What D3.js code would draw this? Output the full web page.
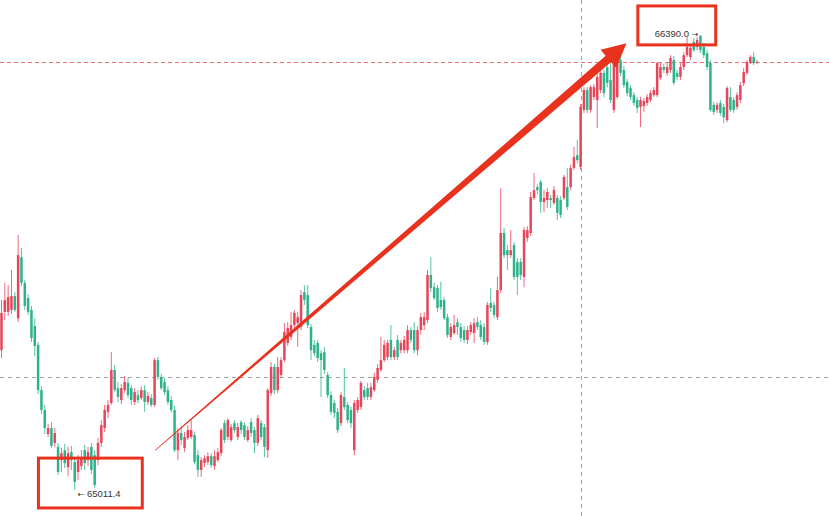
<!DOCTYPE html>
<html>
<head>
<meta charset="utf-8">
<script src="https://cdn.jsdelivr.net/npm/d3@7"></script>
<style>
  html, body { margin: 0; padding: 0; background: #fff; }
  svg { display: block; }
</style>
</head>
<body>
<script>
// OHLC per candle
const open = [
  65435, 65551, 65551, 65557, 65599, 65532, 65717, 65639, 65593, 65557,
  65508, 65451, 65314, 65254, 65181, 65199, 65154, 65142, 65102, 65132,
  65081, 65126, 65096, 65066, 65084, 65132, 65102, 65142, 65117, 65102,
  65154, 65199, 65248, 65275, 65375, 65320, 65284, 65314, 65336, 65320,
  65278, 65299, 65290, 65314, 65278, 65290, 65269, 65405, 65354, 65339,
  65314, 65284, 65254, 65132, 65184, 65139, 65169, 65172, 65178, 65117,
  65072, 65093, 65096, 65114, 65084, 65102, 65123, 65214, 65172, 65163,
  65214, 65172, 65217, 65208, 65163, 65217, 65193, 65154, 65214, 65202,
  65132, 65305, 65384, 65314, 65360, 65405, 65457, 65475, 65511, 65517,
  65505, 65611, 65602, 65505, 65451, 65457, 65426, 65429, 65360, 65299,
  65275, 65248, 65214, 65293, 65269, 65254, 65132, 65254, 65263, 65314,
  65320, 65293, 65314, 65345, 65375, 65405, 65414, 65466, 65414, 65466,
  65435, 65435, 65435, 65496, 65496, 65435, 65496, 65511, 65526, 65663,
  65626, 65623, 65587, 65587, 65535, 65475, 65487, 65520, 65505, 65496,
  65466, 65490, 65487, 65520, 65511, 65505, 65460, 65578, 65572, 65535,
  65617, 65790, 65738, 65723, 65754, 65702, 65702, 65657, 65775, 65790,
  65896, 65929, 65945, 65884, 65890, 65896, 65881, 65896, 65890, 65896,
  65929, 65929, 65987, 66026, 65990, 66163, 66223, 66163, 66202, 66193,
  66223, 66275, 66293, 66254, 66163, 66202, 66314, 66284, 66248, 66229,
  66208, 66193, 66172, 66175, 66184, 66193, 66208, 66208, 66260, 66293,
  66275, 66284, 66314, 66275, 66263, 66293, 66329, 66323, 66369, 66354,
  66387, 66354, 66335, 66305, 66178, 66163, 66184, 66172, 66132, 66202,
  66193, 66172, 66193, 66244, 66275, 66308, 66323, 66305
];
const high = [
  65587, 65639, 65632, 65678, 65611, 65784, 65745, 65648, 65605, 65569,
  65532, 65460, 65326, 65269, 65211, 65217, 65199, 65154, 65139, 65151,
  65142, 65145, 65108, 65117, 65132, 65148, 65142, 65154, 65132, 65169,
  65223, 65269, 65284, 65429, 65390, 65339, 65332, 65357, 65351, 65329,
  65320, 65314, 65326, 65329, 65308, 65302, 65411, 65414, 65363, 65351,
  65326, 65296, 65266, 65199, 65205, 65187, 65208, 65223, 65187, 65132,
  65111, 65117, 65126, 65123, 65132, 65139, 65199, 65223, 65229, 65211,
  65223, 65214, 65223, 65217, 65205, 65229, 65202, 65239, 65223, 65211,
  65320, 65399, 65393, 65414, 65414, 65517, 65520, 65551, 65557, 65551,
  65617, 65632, 65632, 65514, 65466, 65466, 65435, 65445, 65369, 65311,
  65284, 65260, 65308, 65381, 65278, 65263, 65284, 65293, 65342, 65326,
  65336, 65336, 65366, 65393, 65475, 65466, 65466, 65511, 65445, 65481,
  65466, 65478, 65511, 65505, 65520, 65508, 65548, 65551, 65678, 65717,
  65639, 65632, 65642, 65596, 65545, 65517, 65542, 65532, 65517, 65508,
  65508, 65520, 65532, 65535, 65526, 65517, 65581, 65623, 65581, 65657,
  65926, 65805, 65754, 65799, 65763, 65714, 65714, 65808, 65811, 65914,
  65972, 65938, 65951, 65920, 65926, 65905, 65932, 65905, 65902, 65966,
  65987, 65996, 66051, 66072, 66181, 66232, 66232, 66238, 66241, 66275,
  66284, 66284, 66302, 66305, 66314, 66320, 66323, 66296, 66257, 66238,
  66217, 66202, 66202, 66199, 66211, 66223, 66232, 66308, 66305, 66302,
  66305, 66329, 66326, 66284, 66305, 66338, 66384, 66360, 66381, 66384,
  66390, 66366, 66344, 66314, 66187, 66187, 66193, 66181, 66235, 66232,
  66202, 66217, 66248, 66290, 66314, 66329, 66338, 66314
];
const low = [
  65411, 65526, 65539, 65545, 65551, 65520, 65629, 65557, 65542, 65460,
  65417, 65302, 65242, 65181, 65172, 65139, 65142, 65057, 65066, 65078,
  65054, 65072, 65011.4, 65042, 65072, 65072, 65084, 65060, 65017, 65087,
  65142, 65187, 65229, 65269, 65308, 65278, 65272, 65305, 65290, 65269,
  65269, 65275, 65284, 65248, 65269, 65263, 65263, 65345, 65314, 65299,
  65269, 65245, 65126, 65102, 65148, 65126, 65163, 65166, 65090, 65051,
  65051, 65081, 65087, 65078, 65072, 65096, 65114, 65154, 65163, 65157,
  65184, 65163, 65181, 65163, 65157, 65172, 65123, 65145, 65163, 65111,
  65108, 65296, 65302, 65305, 65351, 65399, 65448, 65466, 65502, 65445,
  65496, 65572, 65502, 65405, 65417, 65399, 65293, 65363, 65290, 65239,
  65229, 65184, 65205, 65254, 65214, 65199, 65117, 65245, 65254, 65284,
  65284, 65284, 65308, 65336, 65369, 65399, 65405, 65405, 65405, 65405,
  65426, 65426, 65426, 65457, 65426, 65420, 65481, 65496, 65517, 65611,
  65587, 65551, 65557, 65526, 65472, 65466, 65481, 65481, 65460, 65457,
  65454, 65481, 65457, 65496, 65466, 65451, 65451, 65551, 65532, 65526,
  65608, 65714, 65678, 65714, 65648, 65602, 65648, 65626, 65763, 65781,
  65890, 65908, 65851, 65854, 65866, 65866, 65875, 65829, 65835, 65890,
  65860, 65920, 65981, 66002, 65981, 66154, 66154, 66154, 66193, 66108,
  66214, 66202, 66232, 66184, 66154, 66196, 66266, 66229, 66205, 66193,
  66175, 66154, 66111, 66157, 66175, 66187, 66202, 66202, 66254, 66275,
  66266, 66275, 66238, 66254, 66254, 66284, 66323, 66314, 66338, 66344,
  66335, 66320, 66284, 66157, 66148, 66154, 66145, 66123, 66126, 66157,
  66154, 66163, 66184, 66235, 66269, 66302, 66299, 66302
];
const close = [
  65548, 65587, 65596, 65599, 65557, 65723, 65639, 65569, 65551, 65472,
  65448, 65314, 65254, 65199, 65199, 65145, 65184, 65066, 65123, 65093,
  65123, 65102, 65036, 65102, 65111, 65093, 65126, 65072, 65026, 65154,
  65208, 65254, 65269, 65375, 65314, 65293, 65320, 65339, 65299, 65284,
  65308, 65284, 65314, 65278, 65296, 65269, 65405, 65354, 65320, 65308,
  65278, 65254, 65132, 65184, 65163, 65172, 65193, 65193, 65096, 65072,
  65102, 65108, 65114, 65087, 65114, 65126, 65193, 65163, 65223, 65202,
  65193, 65202, 65193, 65172, 65193, 65184, 65154, 65229, 65172, 65142,
  65314, 65384, 65314, 65384, 65405, 65490, 65502, 65511, 65548, 65535,
  65602, 65587, 65511, 65435, 65426, 65411, 65405, 65375, 65299, 65248,
  65245, 65193, 65299, 65263, 65223, 65214, 65275, 65284, 65336, 65293,
  65293, 65323, 65354, 65381, 65405, 65451, 65457, 65414, 65435, 65414,
  65457, 65466, 65496, 65466, 65435, 65496, 65535, 65535, 65663, 65623,
  65593, 65563, 65566, 65532, 65481, 65505, 65511, 65505, 65472, 65466,
  65496, 65511, 65517, 65505, 65475, 65460, 65572, 65563, 65542, 65617,
  65790, 65723, 65723, 65738, 65657, 65657, 65663, 65799, 65799, 65899,
  65920, 65920, 65884, 65896, 65914, 65890, 65920, 65851, 65845, 65960,
  65869, 65987, 66020, 66011, 66172, 66223, 66163, 66232, 66232, 66263,
  66275, 66214, 66245, 66193, 66305, 66314, 66275, 66238, 66214, 66202,
  66184, 66169, 66193, 66190, 66202, 66214, 66223, 66305, 66293, 66284,
  66293, 66320, 66245, 66263, 66293, 66329, 66354, 66351, 66344, 66375,
  66344, 66329, 66293, 66163, 66157, 66178, 66154, 66141, 66229, 66163,
  66163, 66208, 66238, 66278, 66308, 66323, 66305, 66308
];

// markers
const lowMark = {i: 22, price: 65011.4, label: '65011.4'};
const highMark = {i: 210, price: 66390.0, label: '66390.0'};
const lastPrice = 66308;
const crossPrice = 65354;
const crossIndex = 174;

// hand-drawn annotations (candle index / price)
const boxes = [[11.1, 42.3, 65108, 64957], [191.2, 214.6, 66478, 66360]];
const arrowFrom = [46.2, 65132];
const arrowTo = [187.8, 66365];

const width = 829;
const height = 516;
const upColor = '#e8445a';
const downColor = '#2db38c';
const markColor = '#e8321e';

const svg = d3.select('body')
    .append('svg')
    .attr('width', width)
    .attr('height', height);

const n = close.length;
const x = d3.scaleLinear().domain([0, n - 1]).range([1.5, 757]);
const y = d3.scaleLinear().domain([64932.6, 66496]).range([height, 0]);
const bodyW = 2.5;

// crosshair + last price
svg.append('line')
    .attr('x1', 0).attr('x2', width)
    .attr('y1', Math.round(y(crossPrice)) + 0.5).attr('y2', Math.round(y(crossPrice)) + 0.5)
    .attr('stroke', '#a0a0a0').attr('stroke-dasharray', '4,4');
svg.append('line')
    .attr('x1', Math.round(x(crossIndex)) + 0.5).attr('x2', Math.round(x(crossIndex)) + 0.5)
    .attr('y1', 0).attr('y2', height)
    .attr('stroke', '#a0a0a0').attr('stroke-dasharray', '4,4');
svg.append('line')
    .attr('x1', 0).attr('x2', width)
    .attr('y1', Math.round(y(lastPrice)) + 0.5).attr('y2', Math.round(y(lastPrice)) + 0.5)
    .attr('stroke', '#e57373').attr('stroke-dasharray', '4,3');

// candles
const candles = svg.append('g').selectAll('g')
    .data(d3.range(n))
    .join('g')
    .attr('fill', i => close[i] >= open[i] ? upColor : downColor)
    .attr('stroke', i => close[i] >= open[i] ? upColor : downColor);

candles.append('line')
    .attr('x1', i => x(i)).attr('x2', i => x(i))
    .attr('y1', i => y(high[i])).attr('y2', i => y(low[i]))
    .attr('stroke-width', 1)
    .attr('stroke-opacity', 0.8);

candles.append('rect')
    .attr('stroke', 'none')
    .attr('x', i => x(i) - bodyW / 2)
    .attr('width', bodyW)
    .attr('y', i => y(Math.max(open[i], close[i])))
    .attr('height', i => Math.max(1, Math.abs(y(open[i]) - y(close[i]))));

// high / low labels
const lowText = svg.append('text')
    .attr('x', x(lowMark.i) + 3)
    .attr('y', y(lowMark.price) + 7)
    .attr('font-family', 'Liberation Sans, Arial, sans-serif')
    .attr('font-size', 9.5)
    .attr('fill', '#333');
lowText.append('tspan').attr('font-family', 'DejaVu Sans').attr('font-size', 8).text('\u2190 ');
lowText.append('tspan').text(lowMark.label);

const highText = svg.append('text')
    .attr('x', x(highMark.i) - 2)
    .attr('y', y(highMark.price) + 2)
    .attr('text-anchor', 'end')
    .attr('font-family', 'Liberation Sans, Arial, sans-serif')
    .attr('font-size', 9.5)
    .attr('fill', '#333');
highText.append('tspan').text(highMark.label + ' ');
highText.append('tspan').attr('font-family', 'DejaVu Sans').attr('font-size', 8).text('\u2192');

// annotation boxes
svg.append('g').selectAll('rect')
    .data(boxes)
    .join('rect')
    .attr('x', d => x(d[0]))
    .attr('y', d => y(d[2]))
    .attr('width', d => x(d[1]) - x(d[0]))
    .attr('height', d => y(d[3]) - y(d[2]))
    .attr('fill', 'none')
    .attr('stroke', markColor)
    .attr('stroke-width', 3);

// tapered arrow
const p0 = [x(arrowFrom[0]), y(arrowFrom[1])];
const p1 = [x(arrowTo[0]), y(arrowTo[1])];
const dx = p1[0] - p0[0], dy = p1[1] - p0[1];
const len = Math.hypot(dx, dy);
const ux = dx / len, uy = dy / len;
const nx = -uy, ny = ux;
const headLen = 24, headHalf = 12, tail = 0.4, neck = 4.2;
const hb = [p1[0] - ux * headLen, p1[1] - uy * headLen];
const pts = [
  [p0[0] + nx * tail, p0[1] + ny * tail],
  [hb[0] + nx * neck, hb[1] + ny * neck],
  [hb[0] + nx * headHalf, hb[1] + ny * headHalf],
  p1,
  [hb[0] - nx * headHalf, hb[1] - ny * headHalf],
  [hb[0] - nx * neck, hb[1] - ny * neck],
  [p0[0] - nx * tail, p0[1] - ny * tail]
];
svg.append('path')
    .attr('d', d3.line()(pts) + 'Z')
    .attr('fill', markColor);
</script>
</body>
</html>
